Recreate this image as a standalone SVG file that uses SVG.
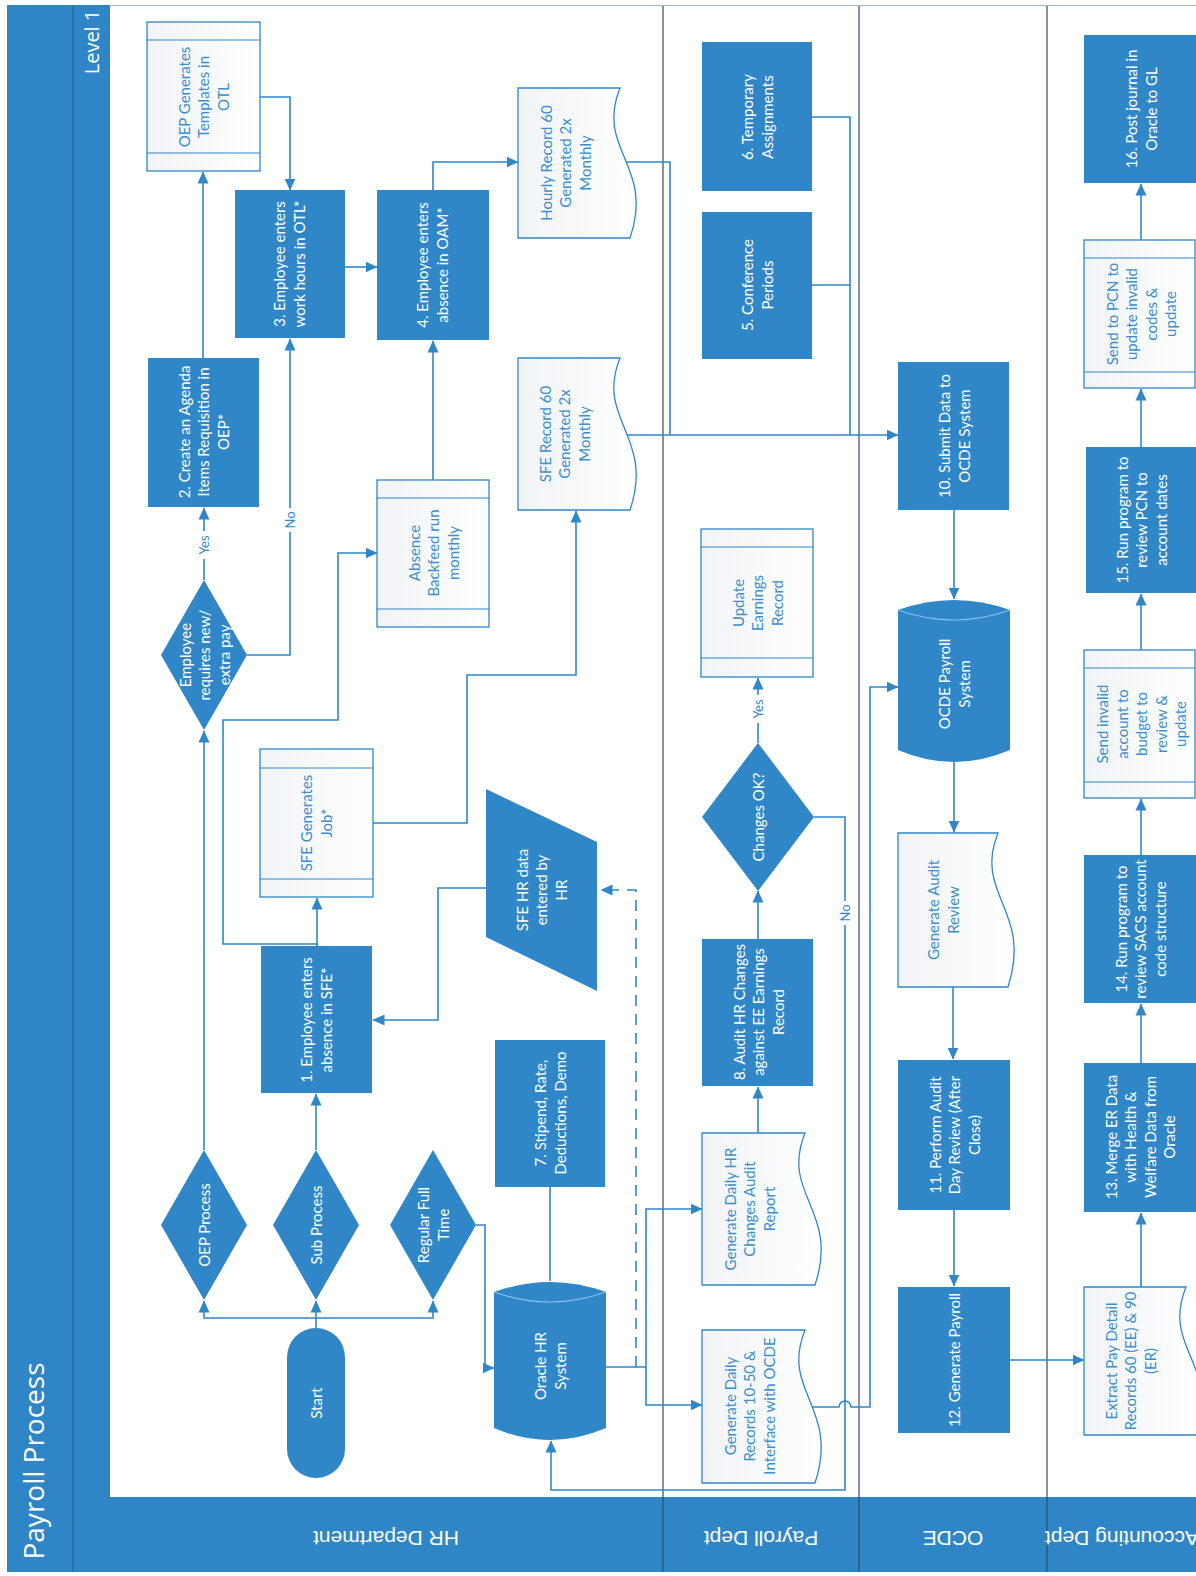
<svg xmlns="http://www.w3.org/2000/svg" width="1196" height="1576" viewBox="0 0 1196 1576">
<defs>
<linearGradient id="wg" x1="0" y1="0" x2="1" y2="0"><stop offset="0" stop-color="#f1f3f6"/><stop offset="1" stop-color="#ffffff"/></linearGradient>
<marker id="ah" viewBox="0 0 12 12" refX="11.5" refY="6" markerWidth="12" markerHeight="12" markerUnits="userSpaceOnUse" orient="auto"><path d="M0,0.5 L12,6 L0,11.5 z" fill="#2f87c8"/></marker>
<style>
.bar{fill:#2f86c6}
.blue{fill:#2f87c8}
.wn{fill:url(#wg);stroke:#2f87c8;stroke-width:1.3}
.band{fill:none;stroke:#2f87c8;stroke-width:1.1}
.inner{fill:none;stroke:#8cc0e8;stroke-width:1.2}
.tw{font-family:Lato,"Liberation Sans",sans-serif;font-size:15px;fill:#ffffff;text-anchor:middle;dominant-baseline:central}
.tb{font-family:Lato,"Liberation Sans",sans-serif;font-size:15px;fill:#3a8fcc;text-anchor:middle;dominant-baseline:central}
.con{fill:none;stroke:#2f87c8;stroke-width:1.6}
.arr{marker-end:url(#ah)}
.dash{stroke-dasharray:11 8}
.lane{stroke:#2c4c6a;stroke-width:1.2}
.lbl{font-family:Lato,"Liberation Sans",sans-serif;font-size:13px;fill:#2f87c8;text-anchor:middle;dominant-baseline:central}
.title{font-family:"Open Sans","Liberation Sans",sans-serif;fill:#ffffff;text-anchor:middle;dominant-baseline:central}
.lanet{font-family:"Liberation Sans",Arial,sans-serif;font-size:21px;fill:#ffffff;text-anchor:middle;dominant-baseline:central}
</style>
</defs>
<rect x="0" y="0" width="1196" height="1576" fill="#ffffff"/>

<g id="frame">
<line x1="110" y1="5.5" x2="1196" y2="5.5" stroke="#9fb6c8" stroke-width="1.2"/>
<rect class="bar" x="7" y="5" width="103" height="1567"/>
<line x1="73" y1="5" x2="73" y2="1572" stroke="#2468a0" stroke-width="1.2"/>
<rect class="bar" x="110" y="1497" width="1086" height="75"/>
<line class="lane" x1="663" y1="6" x2="663" y2="1572"/>
<line class="lane" x1="859" y1="6" x2="859" y2="1572"/>
<line class="lane" x1="1047" y1="6" x2="1047" y2="1572"/>
<text class="title" font-size="28" transform="translate(33 1461) rotate(-90)">Payroll Process</text>
<text class="title" font-size="20" transform="translate(91 42) rotate(-90)">Level 1</text>
<text class="lanet" transform="translate(386 1538) rotate(180)">HR Department</text>
<text class="lanet" transform="translate(761 1538) rotate(180)">Payroll Dept</text>
<text class="lanet" transform="translate(953 1538) rotate(180)">OCDE</text>
<text class="lanet" font-size="20" transform="translate(1122 1538) rotate(180)">Accounting Dept</text>
</g>

<g id="connectors">
<path class="con arr" d="M316,1328 V1318 H204 V1301"/>
<path class="con arr" d="M316,1318 V1301"/>
<path class="con arr" d="M316,1318 H433 V1301"/>
<path class="con arr" d="M204,1150 V731"/>
<path class="con arr" d="M204,580 V508"/>
<path class="con arr" d="M203,358 V172"/>
<path class="con arr" d="M260,97 H290 V190"/>
<path class="con arr" d="M247,655 H290 V339"/>
<path class="con arr" d="M345,267 H377"/>
<path class="con arr" d="M433,190 V162 H518"/>
<path class="con arr" d="M433,480 V341"/>
<path class="con arr" d="M317,946 V944 H223 V720 H338 V553 H377"/>
<path class="con arr" d="M317,946 V898"/>
<path class="con arr" d="M373,823 H467 V675 H576 V511"/>
<path class="con arr" d="M486,888 H438 V1020 H373"/>
<path class="con arr" d="M316,1150 V1094"/>
<path class="con arr" d="M476,1225 H485 V1368 H494"/>
<path class="con" d="M550,1187 V1281"/>
<path class="con arr" d="M606,1367 H646 V1209 H702"/>
<path class="con arr" d="M646,1367 V1405 H702"/>
<path class="con arr dash" d="M636,1367 V890 H601"/>
<path class="con arr" d="M758,1133 V1087"/>
<path class="con arr" d="M758,939 V891"/>
<path class="con arr" d="M758,743 V678"/>
<path class="con arr" d="M814,817 H845 V1490 H551 V1441"/>
<path class="con arr" d="M810,1407 H839 A6,6 0 0 1 851,1407 H870 V687 H898"/>
<path class="con" d="M622,162 H670 V435"/>
<path class="con" d="M812,117 H850 V435"/>
<path class="con" d="M812,285 H850"/>
<path class="con arr" d="M624,435 H898"/>
<path class="con arr" d="M954,510 V599"/>
<path class="con arr" d="M954,762 V832"/>
<path class="con arr" d="M953,987 V1059"/>
<path class="con arr" d="M954,1210 V1286"/>
<path class="con arr" d="M1010,1360 H1084"/>
<path class="con arr" d="M1141,1287 V1213"/>
<path class="con arr" d="M1141,1063 V1004"/>
<path class="con arr" d="M1141,855 V799"/>
<path class="con arr" d="M1141,650 V594"/>
<path class="con arr" d="M1141,447 V389"/>
<path class="con arr" d="M1141,240 V184"/>
<g id="labels">
<rect x="196" y="531" width="16" height="28" fill="#ffffff"/>
<text class="lbl" transform="translate(204 545) rotate(-90)">Yes</text>
<rect x="282" y="508" width="16" height="24" fill="#ffffff"/>
<text class="lbl" transform="translate(290 520) rotate(-90)">No</text>
<rect x="750" y="695" width="16" height="28" fill="#ffffff"/>
<text class="lbl" transform="translate(758 709) rotate(-90)">Yes</text>
<rect x="837" y="901" width="16" height="24" fill="#ffffff"/>
<text class="lbl" transform="translate(845 913) rotate(-90)">No</text>
</g>
</g>

<g id="oep-templates">
<rect class="wn" x="147" y="22" width="113" height="149"/>
<line class="band" x1="147" y1="40" x2="260" y2="40"/><line class="band" x1="147" y1="153" x2="260" y2="153"/>
<text class="tb" transform="translate(203 97) rotate(-90)"><tspan x="0" y="-19.5">OEP Generates</tspan><tspan x="0" y="0">Templates in</tspan><tspan x="0" y="19.5">OTL</tspan></text>
</g>
<g id="n2">
<rect class="blue" x="148" y="358" width="111" height="149"/>
<text class="tw" transform="translate(203 432) rotate(-90)"><tspan x="0" y="-19.5">2. Create an Agenda</tspan><tspan x="0" y="0">Items Requisition in</tspan><tspan x="0" y="19.5">OEP*</tspan></text>
</g>
<g id="n3">
<rect class="blue" x="235" y="190" width="110" height="148"/>
<text class="tw" transform="translate(289 264) rotate(-90)"><tspan x="0" y="-9.75">3. Employee enters</tspan><tspan x="0" y="9.75">work hours in OTL*</tspan></text>
</g>
<g id="n4">
<rect class="blue" x="377" y="190" width="112" height="150"/>
<text class="tw" transform="translate(432 265) rotate(-90)"><tspan x="0" y="-9.75">4. Employee enters</tspan><tspan x="0" y="9.75">absence in OAM*</tspan></text>
</g>
<g id="hourly-record">
<path class="wn" d="M518,88 H620 C595,150 655,165 630,238 H518 Z"/>
<text class="tb" transform="translate(565 163) rotate(-90)"><tspan x="0" y="-19.5">Hourly Record 60</tspan><tspan x="0" y="0">Generated 2x</tspan><tspan x="0" y="19.5">Monthly</tspan></text>
</g>
<g id="d-employee">
<polygon class="blue" points="204,580 247,655 204,730 161,655"/>
<text class="tw" transform="translate(204 655) rotate(-90)"><tspan x="0" y="-19.5">Employee</tspan><tspan x="0" y="0">requires new/</tspan><tspan x="0" y="19.5">extra pay</tspan></text>
</g>
<g id="backfeed">
<rect class="wn" x="377" y="480" width="112" height="147"/>
<line class="band" x1="377" y1="498" x2="489" y2="498"/><line class="band" x1="377" y1="609" x2="489" y2="609"/>
<text class="tb" transform="translate(433 553) rotate(-90)"><tspan x="0" y="-19.5">Absence</tspan><tspan x="0" y="0">Backfeed run</tspan><tspan x="0" y="19.5">monthly</tspan></text>
</g>
<g id="sfe-job">
<rect class="wn" x="260" y="749" width="113" height="148"/>
<line class="band" x1="260" y1="768" x2="373" y2="768"/><line class="band" x1="260" y1="879" x2="373" y2="879"/>
<text class="tb" transform="translate(316 823) rotate(-90)"><tspan x="0" y="-9.75">SFE Generates</tspan><tspan x="0" y="9.75">Job*</tspan></text>
</g>
<g id="sfe-record">
<path class="wn" d="M518,358 H620 C595,420 655,436 630,510 H518 Z"/>
<text class="tb" transform="translate(564 434) rotate(-90)"><tspan x="0" y="-19.5">SFE Record 60</tspan><tspan x="0" y="0">Generated 2x</tspan><tspan x="0" y="19.5">Monthly</tspan></text>
</g>
<g id="sfe-hr">
<polygon class="blue" points="486,789 597,842 597,991 486,937"/>
<text class="tw" transform="translate(541 890) rotate(-90)"><tspan x="0" y="-19.5">SFE HR data</tspan><tspan x="0" y="0">entered by</tspan><tspan x="0" y="19.5">HR</tspan></text>
</g>
<g id="n1">
<rect class="blue" x="261" y="946" width="111" height="147"/>
<text class="tw" transform="translate(316 1020) rotate(-90)"><tspan x="0" y="-9.75">1. Employee enters</tspan><tspan x="0" y="9.75">absence in SFE*</tspan></text>
</g>
<g id="n7">
<rect class="blue" x="495" y="1040" width="110" height="147"/>
<text class="tw" transform="translate(550 1113) rotate(-90)"><tspan x="0" y="-9.75">7. Stipend, Rate,</tspan><tspan x="0" y="9.75">Deductions, Demo</tspan></text>
</g>
<g id="d-oep">
<polygon class="blue" points="204,1150 247,1225 204,1300 161,1225"/>
<text class="tw" transform="translate(204 1225) rotate(-90)">OEP Process</text>
</g>
<g id="d-sub">
<polygon class="blue" points="316,1150 359,1225 316,1300 273,1225"/>
<text class="tw" transform="translate(316 1225) rotate(-90)">Sub Process</text>
</g>
<g id="d-regular">
<polygon class="blue" points="433,1150 476,1225 433,1300 390,1225"/>
<text class="tw" transform="translate(433 1225) rotate(-90)"><tspan x="0" y="-9.75">Regular Full</tspan><tspan x="0" y="9.75">Time</tspan></text>
</g>
<g id="start">
<rect class="blue" x="287" y="1328" width="58" height="150" rx="29"/>
<text class="tw" transform="translate(316 1403) rotate(-90)">Start</text>
</g>
<g id="oracle-hr">
<path class="blue" d="M494,1292 Q550,1272 606,1292 V1428 Q550,1452 494,1428 Z"/>
<path class="inner" d="M494,1292 Q550,1312 606,1292"/>
<text class="tw" transform="translate(550 1366) rotate(-90)"><tspan x="0" y="-9.75">Oracle HR</tspan><tspan x="0" y="9.75">System</tspan></text>
</g>

<g id="n6">
<rect class="blue" x="702" y="42" width="110" height="149"/>
<text class="tw" transform="translate(757 117) rotate(-90)"><tspan x="0" y="-9.75">6. Temporary</tspan><tspan x="0" y="9.75">Assignments</tspan></text>
</g>
<g id="n5">
<rect class="blue" x="702" y="212" width="110" height="147"/>
<text class="tw" transform="translate(757 285) rotate(-90)"><tspan x="0" y="-9.75">5. Conference</tspan><tspan x="0" y="9.75">Periods</tspan></text>
</g>
<g id="update-earnings">
<rect class="wn" x="701" y="529" width="112" height="148"/>
<line class="band" x1="701" y1="547" x2="813" y2="547"/><line class="band" x1="701" y1="658" x2="813" y2="658"/>
<text class="tb" transform="translate(757 603) rotate(-90)"><tspan x="0" y="-19.5">Update</tspan><tspan x="0" y="0">Earnings</tspan><tspan x="0" y="19.5">Record</tspan></text>
</g>
<g id="d-changes">
<polygon class="blue" points="758,743 814,817 758,891 702,817"/>
<text class="tw" transform="translate(758 817) rotate(-90)">Changes OK?</text>
</g>
<g id="n8">
<rect class="blue" x="702" y="939" width="111" height="147"/>
<text class="tw" transform="translate(758 1012) rotate(-90)"><tspan x="0" y="-19.5">8. Audit HR Changes</tspan><tspan x="0" y="0">against EE Earnings</tspan><tspan x="0" y="19.5">Record</tspan></text>
</g>
<g id="daily-hr-report">
<path class="wn" d="M702,1133 H805 C780,1195 840,1210 815,1285 H702 Z"/>
<text class="tb" transform="translate(749 1209) rotate(-90)"><tspan x="0" y="-19.5">Generate Daily HR</tspan><tspan x="0" y="0">Changes Audit</tspan><tspan x="0" y="19.5">Report</tspan></text>
</g>
<g id="daily-records">
<path class="wn" d="M702,1330 H805 C780,1392 840,1407 815,1483 H702 Z"/>
<text class="tb" transform="translate(749 1406) rotate(-90)"><tspan x="0" y="-19.5">Generate Daily</tspan><tspan x="0" y="0">Records 10-50 &amp;</tspan><tspan x="0" y="19.5">Interface with OCDE</tspan></text>
</g>

<g id="n10">
<rect class="blue" x="898" y="362" width="111" height="148"/>
<text class="tw" transform="translate(954 436) rotate(-90)"><tspan x="0" y="-9.75">10. Submit Data to</tspan><tspan x="0" y="9.75">OCDE System</tspan></text>
</g>
<g id="ocde-payroll">
<path class="blue" d="M898,610 Q954,590 1010,610 V750 Q954,774 898,750 Z"/>
<path class="inner" d="M898,610 Q954,630 1010,610"/>
<text class="tw" transform="translate(954 684) rotate(-90)"><tspan x="0" y="-9.75">OCDE Payroll</tspan><tspan x="0" y="9.75">System</tspan></text>
</g>
<g id="audit-review">
<path class="wn" d="M898,833 H998 C973,895 1033,910 1008,987 H898 Z"/>
<text class="tb" transform="translate(943 910) rotate(-90)"><tspan x="0" y="-9.75">Generate Audit</tspan><tspan x="0" y="9.75">Review</tspan></text>
</g>
<g id="n11">
<rect class="blue" x="898" y="1060" width="112" height="150"/>
<text class="tw" transform="translate(954 1135) rotate(-90)"><tspan x="0" y="-19.5">11. Perform Audit</tspan><tspan x="0" y="0">Day Review (After</tspan><tspan x="0" y="19.5">Close)</tspan></text>
</g>
<g id="n12">
<rect class="blue" x="898" y="1287" width="112" height="146"/>
<text class="tw" transform="translate(954 1360) rotate(-90)">12. Generate Payroll</text>
</g>

<g id="extract">
<path class="wn" d="M1084,1287 H1186 C1161,1349 1221,1364 1196,1435 H1084 Z"/>
<text class="tb" transform="translate(1130 1361) rotate(-90)"><tspan x="0" y="-19.5">Extract Pay Detail</tspan><tspan x="0" y="0">Records 60 (EE) &amp; 90</tspan><tspan x="0" y="19.5">(ER)</tspan></text>
</g>
<g id="n13">
<rect class="blue" x="1084" y="1063" width="112" height="149"/>
<text class="tw" transform="translate(1140 1137) rotate(-90)"><tspan x="0" y="-29.25">13. Merge ER Data</tspan><tspan x="0" y="-9.75">with Health &amp;</tspan><tspan x="0" y="9.75">Welfare Data from</tspan><tspan x="0" y="29.25">Oracle</tspan></text>
</g>
<g id="n14">
<rect class="blue" x="1084" y="855" width="112" height="148"/>
<text class="tw" transform="translate(1140 929) rotate(-90)"><tspan x="0" y="-19.5">14. Run program to</tspan><tspan x="0" y="0">review SACS account</tspan><tspan x="0" y="19.5">code structure</tspan></text>
</g>
<g id="send-invalid">
<rect class="wn" x="1084" y="650" width="111" height="148"/>
<line class="band" x1="1084" y1="668" x2="1195" y2="668"/><line class="band" x1="1084" y1="782" x2="1195" y2="782"/>
<text class="tb" transform="translate(1141 724) rotate(-90)"><tspan x="0" y="-39">Send invalid</tspan><tspan x="0" y="-19.5">account to</tspan><tspan x="0" y="0">budget to</tspan><tspan x="0" y="19.5">review &amp;</tspan><tspan x="0" y="39">update</tspan></text>
</g>
<g id="n15">
<rect class="blue" x="1086" y="447" width="110" height="146"/>
<text class="tw" transform="translate(1141 520) rotate(-90)"><tspan x="0" y="-19.5">15. Run program to</tspan><tspan x="0" y="0">review PCN to</tspan><tspan x="0" y="19.5">account dates</tspan></text>
</g>
<g id="send-pcn">
<rect class="wn" x="1084" y="240" width="111" height="148"/>
<line class="band" x1="1084" y1="258" x2="1195" y2="258"/><line class="band" x1="1084" y1="372" x2="1195" y2="372"/>
<text class="tb" transform="translate(1141 314) rotate(-90)"><tspan x="0" y="-29.25">Send to PCN to</tspan><tspan x="0" y="-9.75">update invalid</tspan><tspan x="0" y="9.75">codes &amp;</tspan><tspan x="0" y="29.25">update</tspan></text>
</g>
<g id="n16">
<rect class="blue" x="1084" y="35" width="112" height="148"/>
<text class="tw" transform="translate(1141 109) rotate(-90)"><tspan x="0" y="-9.75">16. Post journal in</tspan><tspan x="0" y="9.75">Oracle to GL</tspan></text>
</g>
</svg>
